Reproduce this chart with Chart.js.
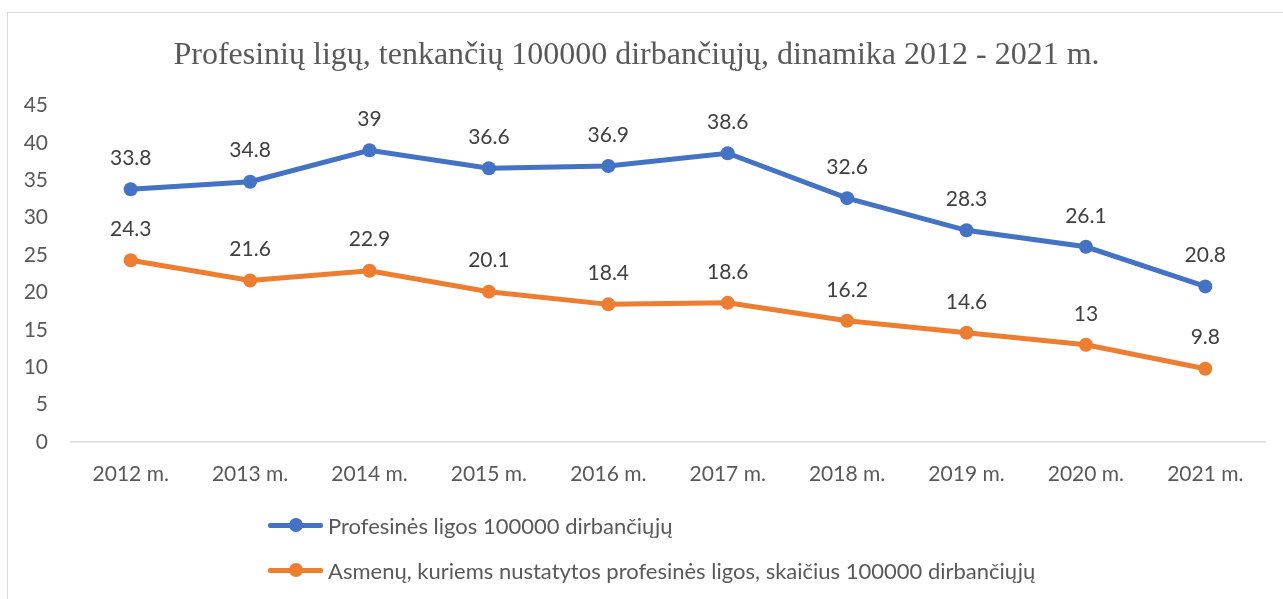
<!DOCTYPE html>
<html>
<head>
<meta charset="utf-8">
<script src="https://cdn.jsdelivr.net/npm/chart.js@4.4.0/dist/chart.umd.min.js"></script>
<style>
  html, body { margin: 0; padding: 0; background: #fff; }
  body { width: 1283px; height: 599px; position: relative; overflow: hidden; }
  #frame {
    position: absolute; left: 7px; top: 12px; width: 1300px; height: 620px;
    border-top: 1px solid #d9d9d9; border-left: 1px solid #d9d9d9;
  }
  #wrap { position: absolute; left: 8px; top: 13px; width: 1275px; height: 586px; }
  #legend { position: absolute; left: 268px; top: 0; font-family: Lato, sans-serif; font-size: 22px; color: #595959; }
  .item { position: absolute; left: 0; white-space: nowrap; display: flex; align-items: center; height: 30px; }
  .mark { position: relative; width: 55px; height: 30px; margin-right: 5px; }
  .mark .ln { position: absolute; left: 0; right: 0; top: 13px; height: 4.5px; border-radius: 2px; }
  .mark .dot { position: absolute; left: 21px; top: 8px; width: 14px; height: 14px; border-radius: 50%; }
</style>
</head>
<body>
<div id="frame"></div>
<div id="wrap"><canvas id="chart"></canvas></div>
<div id="legend"></div>
<script>
const titleText = "Profesinių ligų, tenkančių 100000 dirbančiųjų, dinamika 2012 - 2021 m.";
const years = ["2012 m.", "2013 m.", "2014 m.", "2015 m.", "2016 m.", "2017 m.", "2018 m.", "2019 m.", "2020 m.", "2021 m."];
const diseaseLabel = "Profesinės ligos 100000 dirbančiųjų";
const diseaseValues = [33.8, 34.8, 39, 36.6, 36.9, 38.6, 32.6, 28.3, 26.1, 20.8];
const personsLabel = "Asmenų, kuriems nustatytos profesinės ligos, skaičius 100000 dirbančiųjų";
const personsValues = [24.3, 21.6, 22.9, 20.1, 18.4, 18.6, 16.2, 14.6, 13, 9.8];

const blue = "#4472C4";
const orange = "#ED7D31";

// value labels above each point
const pointLabels = {
  id: "pointLabels",
  afterDatasetsDraw(chart) {
    const ctx = chart.ctx;
    ctx.save();
    ctx.font = "21px Lato, sans-serif";
    ctx.fillStyle = "#404040";
    ctx.textAlign = "center";
    ctx.textBaseline = "middle";
    chart.data.datasets.forEach((ds, i) => {
      chart.getDatasetMeta(i).data.forEach((pt, j) => {
        ctx.fillText(String(ds.data[j]), pt.x, pt.y - 31);
      });
    });
    ctx.restore();
  },
};

const ctx = document.getElementById("chart").getContext("2d");
const chart = new Chart(ctx, {
  type: "line",
  data: {
    labels: years,
    datasets: [
      {
        label: diseaseLabel,
        data: diseaseValues,
        borderColor: blue,
        backgroundColor: blue,
        borderWidth: 5,
        pointRadius: 7,
        pointBorderWidth: 0,
        tension: 0,
      },
      {
        label: personsLabel,
        data: personsValues,
        borderColor: orange,
        backgroundColor: orange,
        borderWidth: 5,
        pointRadius: 7,
        pointBorderWidth: 0,
        tension: 0,
      },
    ],
  },
  options: {
    responsive: true,
    maintainAspectRatio: false,
    animation: false,
    layout: { padding: { left: 0, right: 18, top: 0, bottom: 107 } },
    plugins: {
      legend: { display: false },
      tooltip: { enabled: false },
      title: {
        display: true,
        text: titleText,
        color: "#595959",
        font: { family: "'Liberation Serif', 'Times New Roman', serif", size: 32, weight: "normal" },
        padding: { top: 23, bottom: 31 },
      },
    },
    scales: {
      x: {
        offset: true,
        grid: { display: false, drawTicks: false },
        border: { display: true, color: "#d9d9d9", width: 1.5 },
        ticks: { color: "#595959", font: { family: "Lato, sans-serif", size: 21 }, padding: 20, maxRotation: 0 },
        afterFit: (s) => { s.height = 50; },
      },
      y: {
        min: 0,
        max: 45,
        grid: { display: false, drawTicks: false },
        border: { display: false },
        ticks: { stepSize: 5, color: "#595959", font: { family: "Lato, sans-serif", size: 21 }, padding: 23 },
        afterFit: (s) => { s.width = 63; },
      },
    },
  },
  plugins: [pointLabels],
});

// legend, one entry per row
const legend = document.getElementById("legend");
const rowTops = [510, 555];
chart.data.datasets.forEach((ds, i) => {
  const item = document.createElement("div");
  item.className = "item";
  item.style.top = rowTops[i] + "px";
  item.innerHTML =
    '<span class="mark"><span class="ln" style="background:' + ds.borderColor + '"></span>' +
    '<span class="dot" style="background:' + ds.borderColor + '"></span></span>' +
    "<span>" + ds.label + "</span>";
  legend.appendChild(item);
});
</script>
</body>
</html>
